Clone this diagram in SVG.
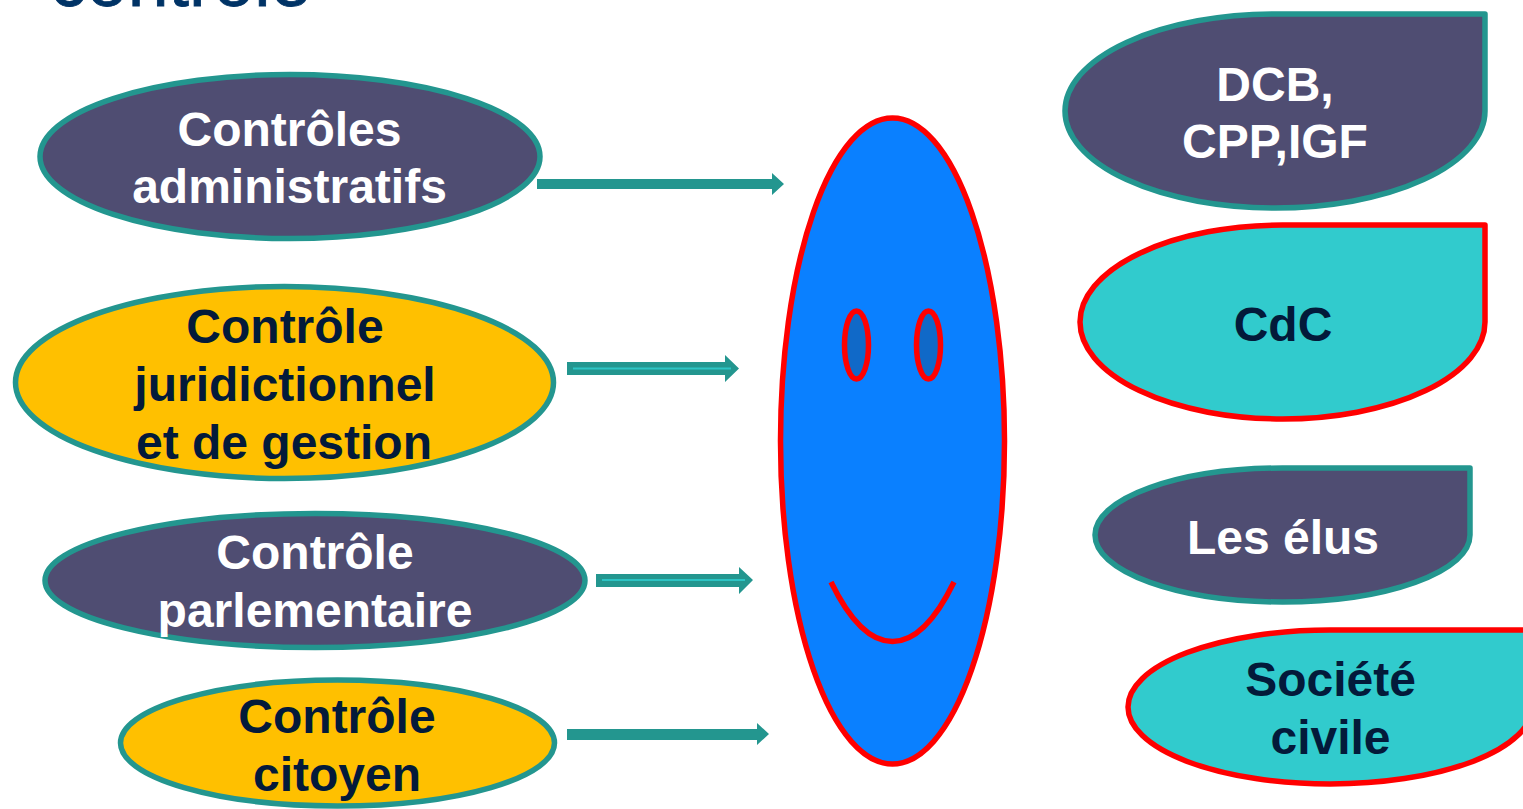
<svg xmlns="http://www.w3.org/2000/svg" width="1523" height="809" viewBox="0 0 1523 809">
<style>
.t{font-family:"Liberation Sans",Arial,sans-serif;font-weight:700;font-size:48px;text-anchor:middle}
.w{fill:#ffffff}.d{fill:#031a3a}
.st{stroke:#23968f;stroke-width:5.500}.sr{stroke:#ff0000;stroke-width:5.500}
.pu{fill:#4f4d72}.ye{fill:#ffc000}.tq{fill:#31cbcd}
.a{fill:#23968f}.i{stroke:#2cc4c4;stroke-width:2;fill:none}
</style>
<rect width="1523" height="809" fill="#ffffff"/>
<text id="title" x="50" y="5.500" font-family="'Liberation Sans',Arial,sans-serif" font-size="73.500" fill="#003366" stroke="#003366" stroke-width="0.800">contrôle</text>
<g id="connectors">
<polygon class="a" points="537,179 772,179 772,173 784,184 772,195 772,189 537,189"/>
<polygon class="a" points="567,362 725,362 725,355 739,368.500 725,382 725,375 567,375"/>
<line class="i" x1="573" y1="368.500" x2="731" y2="368.500"/>
<polygon class="a" points="596,574 739,574 739,567 753,580 739,594 739,587 596,587"/>
<line class="i" x1="602" y1="580" x2="745" y2="580"/>
<polygon class="a" points="567,729 757,729 757,723 769,734 757,745 757,740 567,740"/>
</g>
<g id="n1"><ellipse class="pu st" cx="290" cy="156.500" rx="250" ry="82"/>
<text class="t w" x="289.500" y="146">Contrôles</text><text class="t w" x="289.500" y="203">administratifs</text></g>
<g id="n2"><ellipse class="ye st" cx="284.500" cy="382.500" rx="269" ry="96"/>
<text class="t d" x="285" y="343">Contrôle</text><text class="t d" x="285" y="400.500">juridictionnel</text><text class="t d" x="284" y="458.500">et de gestion</text></g>
<g id="n3"><ellipse class="pu st" cx="315" cy="580.500" rx="270" ry="67"/>
<text class="t w" x="315" y="569">Contrôle</text><text class="t w" x="315" y="627">parlementaire</text></g>
<g id="n4"><ellipse class="ye st" cx="337.500" cy="743" rx="217" ry="63"/>
<text class="t d" x="337" y="733">Contrôle</text><text class="t d" x="337" y="791">citoyen</text></g>
<g id="face">
<ellipse class="sr" fill="#0a80ff" cx="892.500" cy="441" rx="112" ry="323"/>
<ellipse class="sr" fill="#1069c8" cx="856.500" cy="345" rx="12" ry="34"/>
<ellipse class="sr" fill="#1069c8" cx="928.500" cy="345" rx="12" ry="34"/>
<path class="sr" fill="none" d="M831 582C850 621 870 641.500 892.500 641.500C915 641.500 935 621 954 582"/>
</g>
<g id="r1"><path class="pu st" d="M1275 14H1485V111A210 97 0 0 1 1065 111A210 97 0 0 1 1275 14Z" stroke-linejoin="round"/>
<text class="t w" x="1275" y="101">DCB,</text><text class="t w" x="1275" y="158">CPP,IGF</text></g>
<g id="r2"><path class="tq sr" d="M1282.500 225H1485V322A202.500 97 0 0 1 1080 322A202.500 97 0 0 1 1282.500 225Z" stroke-linejoin="round"/>
<text class="t d" x="1283" y="341">CdC</text></g>
<g id="r3"><path class="pu st" d="M1282.500 468H1470V535A187.500 67 0 0 1 1095 535A187.500 67 0 0 1 1282.500 468Z" stroke-linejoin="round"/>
<text class="t w" x="1283" y="554">Les élus</text></g>
<g id="r4"><path class="tq sr" d="M1330 630H1532V707A202 77 0 0 1 1128 707A202 77 0 0 1 1330 630Z"/>
<text class="t d" x="1330.500" y="696">Société</text><text class="t d" x="1330.500" y="754">civile</text></g>
</svg>
